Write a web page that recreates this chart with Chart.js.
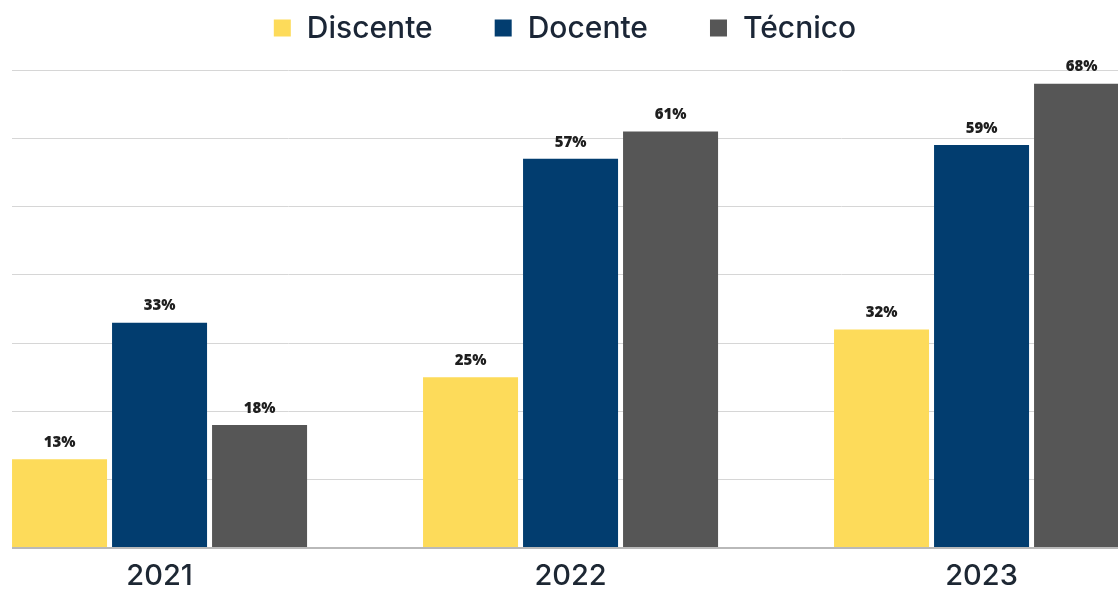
<!DOCTYPE html>
<html>
<head>
<meta charset="utf-8">
<script src="https://cdn.jsdelivr.net/npm/chart.js@4/dist/chart.umd.min.js"></script>
<style>
  html, body { margin: 0; padding: 0; background: #ffffff; overflow: hidden; }
  canvas { display: block; }
</style>
</head>
<body>
<canvas id="chart" width="1118" height="589"></canvas>
<script>
// Years on the horizontal axis
const categories = ['2021', '2022', '2023'];

// Share (%) per group and year
const discente = [13, 25, 32];
const docente = [33, 57, 59];
const tecnico = [18, 61, 68];

// Horizontal grid every 10 %, up to 70 %
const yMax = 70;
const yStep = 10;

const seriesNames = ['Discente', 'Docente', 'Técnico'];
const seriesColors = ['#FDDB5A', '#023D6F', '#565656'];

const toPoints = arr => arr.map((v, i) => ({ x: i, y: v }));

// Numbers above each bar
const valueLabels = {
  id: 'valueLabels',
  afterDatasetsDraw(chart) {
    const ctx = chart.ctx;
    ctx.save();
    ctx.font = '800 15px "Open Sans", sans-serif';
    ctx.fillStyle = '#1e1e1e';
    ctx.textAlign = 'center';
    ctx.textBaseline = 'bottom';
    chart.data.datasets.forEach((ds, di) => {
      chart.getDatasetMeta(di).data.forEach((bar, i) => {
        ctx.fillText(ds.data[i].y + '%', bar.x, bar.y - 9);
      });
    });
    ctx.restore();
  }
};

// Centred legend row at the top
const topLegend = {
  id: 'topLegend',
  afterDraw(chart) {
    const ctx = chart.ctx;
    const box = 17, gapText = 16, gapItem = 62, cy = 28;
    ctx.save();
    ctx.font = '500 30px Inter, sans-serif';
    const items = chart.data.datasets.map(ds => ({
      text: ds.label, color: ds.backgroundColor, w: ctx.measureText(ds.label).width
    }));
    const total = items.reduce((s, it) => s + box + gapText + it.w, 0) + gapItem * (items.length - 1);
    const area = chart.chartArea;
    let x = (area.left + area.right) / 2 - total / 2;
    ctx.textBaseline = 'middle';
    ctx.textAlign = 'left';
    items.forEach(it => {
      ctx.fillStyle = it.color;
      ctx.fillRect(x, cy - box / 2, box, box);
      ctx.fillStyle = '#1b2636';
      ctx.fillText(it.text, x + box + gapText, cy + 1);
      x += box + gapText + it.w + gapItem;
    });
    ctx.restore();
  }
};

new Chart(document.getElementById('chart'), {
  type: 'bar',
  data: {
    datasets: [
      { label: seriesNames[0], data: toPoints(discente), backgroundColor: seriesColors[0] },
      { label: seriesNames[1], data: toPoints(docente), backgroundColor: seriesColors[1] },
      { label: seriesNames[2], data: toPoints(tecnico), backgroundColor: seriesColors[2] }
    ]
  },
  options: {
    responsive: false,
    animation: false,
    events: [],
    categoryPercentage: 0.73,
    barPercentage: 0.95,
    layout: { padding: { top: 70, left: 12, right: 0, bottom: 0 } },
    plugins: {
      legend: { display: false },
      tooltip: { enabled: false }
    },
    scales: {
      x: {
        type: 'linear',
        offset: false,
        min: -0.359,
        max: 2.332,
        grid: { display: false, drawTicks: false },
        border: { display: false },
        afterBuildTicks: scale => { scale.ticks = categories.map((c, i) => ({ value: i })); },
        afterFit: scale => { scale.height = 41; },
        ticks: {
          padding: 11,
          autoSkip: false,
          maxRotation: 0,
          color: '#1d2733',
          font: { family: 'Inter', size: 29, weight: '500' },
          callback: value => categories[value]
        }
      },
      y: {
        min: 0,
        max: yMax,
        ticks: { display: false, stepSize: yStep },
        border: { display: false },
        afterFit: scale => { scale.width = 0; },
        grid: {
          drawTicks: false,
          color: ctx => ctx.tick.value === 0 ? '#b9b9b9' : '#d6d6d6',
          lineWidth: ctx => ctx.tick.value === 0 ? 2 : 1
        }
      }
    }
  },
  plugins: [valueLabels, topLegend]
});
</script>
</body>
</html>
